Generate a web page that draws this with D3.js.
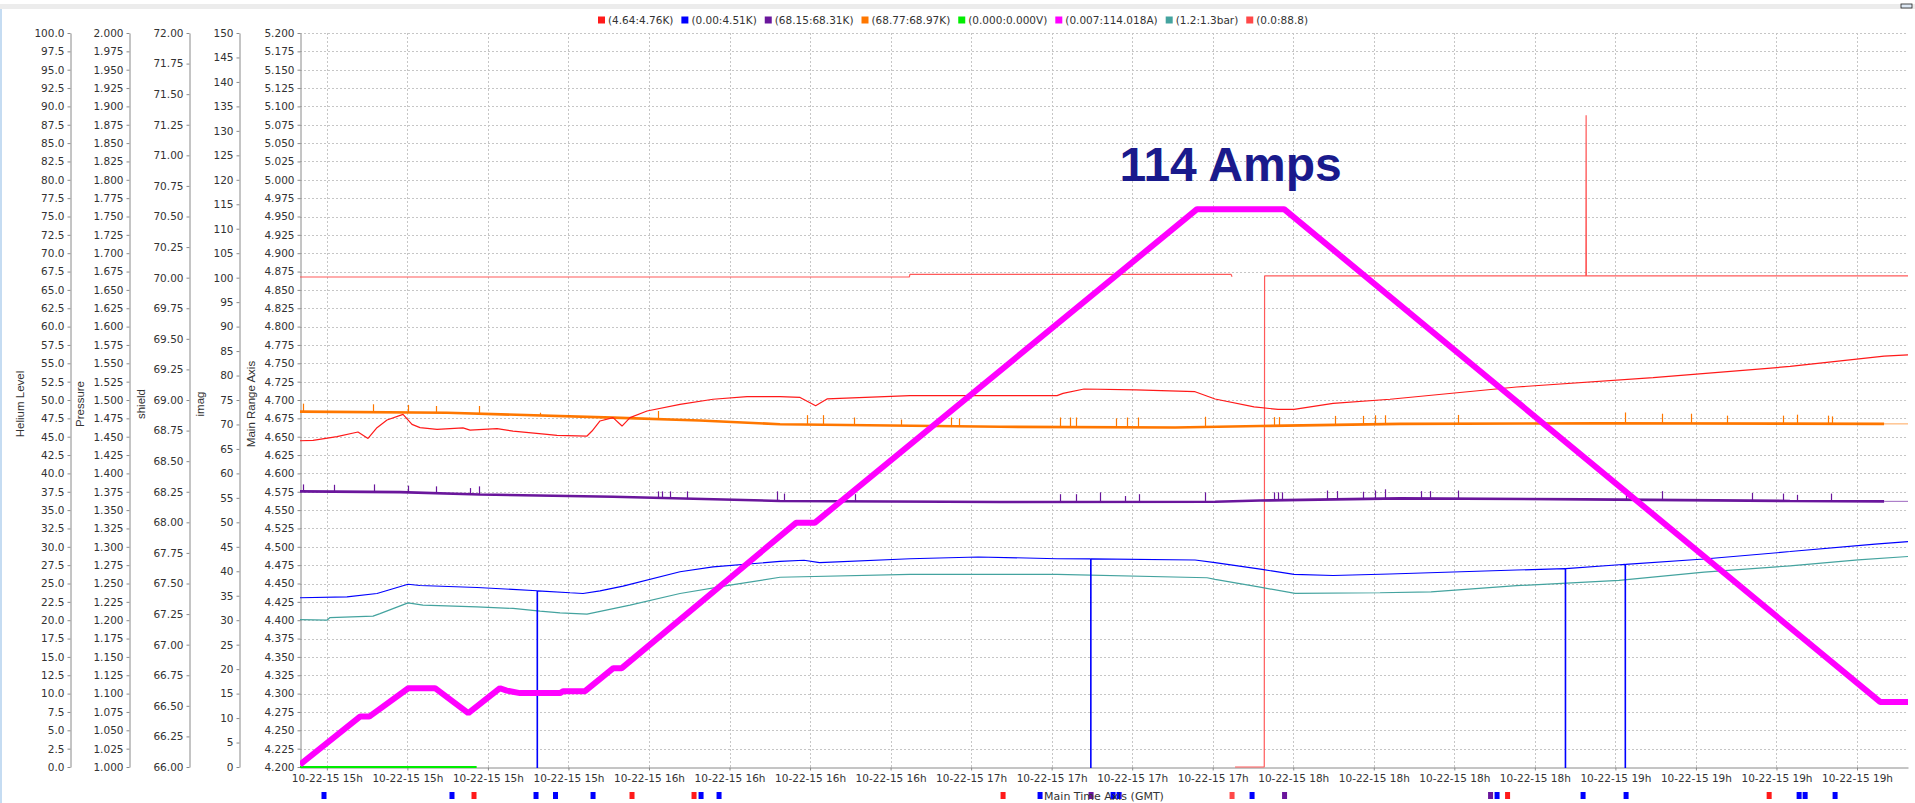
<!DOCTYPE html>
<html>
<head>
<meta charset="utf-8">
<script src="https://cdn.jsdelivr.net/npm/d3@7"></script>
<style>
	body { margin:0; background:#fff; }
	svg { display:block; }
</style>
</head>
<body>
<script>
// all times are minutes after 10-22-15 14:55 (GMT)
var timeStart = new Date(2015, 9, 22, 14, 55);
var timeSpan = 299.5;

// axis ranges / tick steps
var heliumRange = [0, 100],   heliumStep = 2.5;
var pressureRange = [1, 2],   pressureStep = 0.025;
var shieldRange = [66, 72],   shieldStep = 0.25;
var imagRange = [0, 150],     imagStep = 5;
var mainRange = [4.2, 5.2],   mainStep = 0.025;

var legendLabels = ["(4.64:4.76K)", "(0.00:4.51K)", "(68.15:68.31K)", "(68.77:68.97K)",
	"(0.000:0.000V)", "(0.007:114.018A)", "(1.2:1.3bar)", "(0.0:88.8)"];

// series 0 - red, main range axis
var redK = [[0,4.6445],[2.42,4.645],[6.89,4.650],[10.80,4.6564],[12.67,4.6477],[14.34,4.6623],
	[16.21,4.6727],[19.19,4.6805],[20.86,4.6668],[22.35,4.6623],[25.52,4.660],[30.36,4.662],
	[31.67,4.659],[36.70,4.661],[39.68,4.6577],[46.01,4.6532],[47.87,4.6518],[53.46,4.6509],
	[54.39,4.6577],[55.88,4.6714],[58.30,4.676],[59.98,4.6645],[61.47,4.676],[64.64,4.685],
	[70.78,4.694],[76.93,4.701],[83.26,4.7045],[89.41,4.7045],[93.14,4.7035],[96.04,4.6922],
	[98.16,4.7014],[113.62,4.7059],[141.0,4.7059],[142.12,4.709],[146.03,4.715],[155.72,4.7137],
	[166.71,4.7113],[170.44,4.7014],[177.70,4.6907],[182.17,4.6872],[185.15,4.6872],[192.42,4.6954],
	[203.03,4.701],[226.60,4.7177],[252.03,4.7306],[277.54,4.7457],[295.05,4.7598],[299.5,4.7614]];

// series 1 - blue, main range axis (drops to 0 are dropouts)
var blueK = [[0,4.4305],[8.75,4.4318],[14.34,4.4364],[20.12,4.449],[22.35,4.4473],[32.97,4.4445],
	[44.15,4.4402],[44.2,0],[44.25,4.44],[50.29,4.4373],[52.71,4.4364],[55.88,4.44],[60.17,4.4464],
	[70.78,4.466],[76.93,4.4727],[89.41,4.4801],[93.88,4.4816],[96.77,4.4784],[113.62,4.4838],
	[126.29,4.4861],[141.0,4.4838],[147.25,4.4835],[147.3,0],[147.35,4.4835],[166.71,4.482],
	[170.44,4.4784],[179.19,4.4692],[185.15,4.4624],[192.42,4.461],[203.0,4.463],[226.60,4.4683],
	[235.65,4.4703],[235.7,0],[235.75,4.4703],[245.68,4.4756],[246.8,4.476],[246.85,0],[246.9,4.476],
	[261.53,4.4834],[277.54,4.4935],[293.37,4.5036],[299.5,4.507]];

// series 2 - purple, shield axis
var purpleBase = [[0,68.253],[18.63,68.247],[33.53,68.228],[58.30,68.209],[89.41,68.175],
	[130.39,68.166],[170.44,68.168],[178.82,68.178],[204.90,68.196],[239.36,68.188],
	[277.54,68.175],[295.05,68.171]];
var purpleSpikes = [[0.56,68.31],[6.33,68.307],[13.78,68.31],[20.12,68.30],[25.33,68.294],
	[31.67,68.28],[33.34,68.294],[66.68,68.253],[67.43,68.253],[68.92,68.253],[72.09,68.253],
	[88.85,68.253],[90.15,68.235],[103.38,68.23],[141.57,68.23],[144.55,68.23],[149.02,68.245],
	[153.67,68.215],[156.28,68.23],[168.57,68.245],[181.43,68.245],[182.18,68.245],[182.92,68.245],
	[191.30,68.26],[193.16,68.255],[198.0,68.25],[200.24,68.26],[202.10,68.27],[208.81,68.255],
	[210.49,68.255],[215.70,68.26],[246.99,68.255],[253.70,68.255],[270.46,68.24],[276.24,68.235],
	[278.85,68.225],[285.18,68.235]];

// series 3 - orange, shield axis
var orangeBase = [[0,68.905],[27.38,68.896],[58.30,68.856],[74.45,68.832],[89.41,68.802],
	[130.39,68.781],[162.99,68.775],[178.82,68.787],[204.90,68.805],[242.15,68.81],[295.05,68.805]];
var orangeSpikes = [[0.56,68.97],[13.60,68.965],[20.12,68.96],[25.33,68.951],[33.34,68.951],
	[44.70,68.896],[66.68,68.91],[94.44,68.876],[97.42,68.876],[103.19,68.857],[111.95,68.84],
	[121.26,68.857],[122.75,68.85],[141.57,68.857],[143.43,68.857],[144.55,68.857],[152.0,68.85],
	[154.04,68.857],[156.09,68.857],[168.57,68.863],[181.43,68.86],[182.36,68.86],[192.79,68.87],
	[198.0,68.87],[200.24,68.875],[202.10,68.875],[215.70,68.878],[246.81,68.898],[253.70,68.888],
	[259.10,68.888],[265.81,68.872],[276.24,68.872],[278.85,68.88],[284.63,68.872],[285.37,68.866]];

// series 4 - green volts, imag axis
var greenV = [[0,0],[32.9,0]];

// series 5 - magenta current, imag axis
var magentaA = [[0,0.5],[11.18,10.3],[12.9,10.3],[20.17,16.1],[25.15,16.1],[31.35,11.0],
	[37.25,16.1],[38.5,15.6],[40.98,15.1],[48.43,15.1],[49.05,15.5],[53.09,15.5],[58.36,20.2],
	[59.93,20.2],[92.39,49.9],[95.86,49.9],[167.08,114.0],[183.29,114.0],[294.3,13.3],[299.5,13.3]];

// series 6 - teal pressure, pressure axis
var tealBar = [[0,1.2009],[5.03,1.200],[5.59,1.2036],[13.60,1.2055],[14.90,1.209],[20.12,1.2236],
	[22.91,1.2205],[32.97,1.2182],[39.68,1.216],[44.70,1.2123],[48.43,1.210],[53.46,1.2082],
	[61.47,1.2205],[70.78,1.2364],[80.10,1.2477],[89.41,1.2585],[113.62,1.2624],[141.0,1.2624],
	[168.95,1.2578],[170.44,1.2556],[178.82,1.245],[185.34,1.2365],[201.17,1.2374],[210.67,1.2385],
	[226.60,1.247],[245.68,1.2543],[261.53,1.2655],[277.54,1.274],[290.21,1.2823],[299.5,1.2868]];

// series 7 - helium level (null = gap)
var heliumLevel = [[0,66.76],[113.5,66.76],[113.6,67.12],[173.4,67.12],[173.6,66.8],[173.7,null],
	[174.16,0],[179.6,0],[179.66,66.9],[239.5,66.9],[239.55,88.8],[239.6,66.9],[299.5,66.9]];

// event markers under the time axis
var markerTimes = [4.47,28.31,32.41,43.96,47.59,54.58,61.84,73.39,74.70,78.05,130.95,137.84,
	147.34,151.44,152.56,173.60,177.33,183.38,221.75,222.96,224.92,238.98,246.99,273.64,279.22,
	280.34,285.92];
var markerSeries = [1,1,0,1,1,1,0,0,1,1,0,1,2,1,1,7,1,2,2,1,0,1,1,0,1,1,1];

var peakLabel = "114 Amps";

var colors = ["#ff1a1a", "#0000ff", "#6a169c", "#ff7700", "#00ee00", "#ff00ff", "#44a39f", "#ff4848"];

function tm(min) { return new Date(timeStart.getTime() + min * 60000); }

var W = 1915, H = 803;
var plot = {left:300, right:1908, top:33, bottom:767};

var svg = d3.select("body").append("svg")
	.attr("width", W)
	.attr("height", H);

// window chrome bits
svg.append("rect").attr("x", 0).attr("y", 4).attr("width", W).attr("height", 5).attr("fill", "#ececec");
svg.append("rect").attr("x", 0).attr("y", 9).attr("width", 2).attr("height", H-9).attr("fill", "#c5dcf2");
svg.append("rect").attr("x", 1901).attr("y", 4).attr("width", 11).attr("height", 4)
	.attr("fill", "#dde8f4").attr("stroke", "#222").attr("stroke-width", 0.8);

var x = d3.scaleTime()
	.domain([tm(0), tm(timeSpan)])
	.range([plot.left, plot.right]);

function yScale(r) {
	return d3.scaleLinear().domain(r).range([plot.bottom, plot.top]);
}
var yHelium = yScale(heliumRange),
	yPressure = yScale(pressureRange),
	yShield = yScale(shieldRange),
	yImag = yScale(imagRange),
	yMain = yScale(mainRange);

function tickVals(r, step) {
	var n = Math.round((r[1] - r[0]) / step);
	return d3.range(n + 1).map(function(i){ return r[0] + i * step; });
}

var timeTicks = x.ticks(d3.timeMinute.every(15));

// grid
var grid = svg.append("g").attr("stroke", "#c6c6c6").attr("stroke-dasharray", "2,2").attr("stroke-width", 1);
tickVals(mainRange, mainStep).forEach(function(v){
	if (Math.abs(v - mainRange[0]) < 1e-9) return;
	var yy = Math.round(yMain(v)) + 0.5;
	grid.append("line").attr("x1", plot.left).attr("x2", plot.right).attr("y1", yy).attr("y2", yy);
});
timeTicks.forEach(function(t){
	var xx = Math.round(x(t)) + 0.5;
	grid.append("line").attr("x1", xx).attr("x2", xx).attr("y1", plot.top).attr("y2", plot.bottom);
});

// left axes
var axes = [
	{title:"Helium Level", scale:yHelium, range:heliumRange, step:heliumStep, fmt:".1f", at:70, titleAt:20},
	{title:"Pressure", scale:yPressure, range:pressureRange, step:pressureStep, fmt:".3f", at:129, titleAt:80},
	{title:"shield", scale:yShield, range:shieldRange, step:shieldStep, fmt:".2f", at:189, titleAt:141},
	{title:"imag", scale:yImag, range:imagRange, step:imagStep, fmt:"d", at:239, titleAt:200},
	{title:"Main Range Axis", scale:yMain, range:mainRange, step:mainStep, fmt:".3f", at:300, titleAt:251}
];

axes.forEach(function(a){
	var g = svg.append("g")
		.attr("transform", "translate(" + (a.at + 0.5) + ",0)")
		.call(d3.axisLeft(a.scale)
			.tickValues(tickVals(a.range, a.step))
			.tickFormat(d3.format(a.fmt))
			.tickSizeInner(3)
			.tickSizeOuter(0)
			.tickPadding(3));
	g.select(".domain").attr("stroke", "#8a8a8a");
	g.selectAll(".tick line").attr("stroke", "#8a8a8a");
	g.selectAll(".tick text")
		.attr("fill", "#333")
		.attr("font-family", "DejaVu Sans")
		.attr("font-size", "10.5px");

	svg.append("text")
		.attr("transform", "translate(" + a.titleAt + "," + 404 + ") rotate(-90)")
		.attr("text-anchor", "middle")
		.attr("dy", "0.35em")
		.attr("font-family", "Liberation Sans")
		.attr("font-size", "11.5px")
		.attr("fill", "#333")
		.text(a.title);
});

// time axis
var xg = svg.append("g")
	.attr("transform", "translate(0," + (plot.bottom + 0.5) + ")")
	.call(d3.axisBottom(x)
		.tickValues(timeTicks)
		.tickFormat(d3.timeFormat("%m-%d-%y %Hh"))
		.tickSizeInner(3)
		.tickSizeOuter(0)
		.tickPadding(4));
xg.select(".domain").attr("stroke", "#8a8a8a");
xg.selectAll(".tick line").attr("stroke", "#8a8a8a");
xg.selectAll(".tick text")
	.attr("fill", "#333")
	.attr("font-family", "DejaVu Sans")
	.attr("font-size", "10.5px");

// series lines
svg.append("clipPath").attr("id", "clip")
	.append("rect")
	.attr("x", plot.left).attr("y", plot.top)
	.attr("width", plot.right - plot.left).attr("height", plot.bottom - plot.top + 1);

var lines = svg.append("g").attr("clip-path", "url(#clip)");

function drawLine(data, yS, color, width, opacity) {
	var line = d3.line()
		.defined(function(d){ return d[1] != null; })
		.x(function(d){ return x(tm(d[0])); })
		.y(function(d){ return yS(d[1]); });
	lines.append("path")
		.datum(data)
		.attr("d", line)
		.attr("fill", "none")
		.attr("stroke", color)
		.attr("stroke-width", width)
		.attr("stroke-opacity", opacity == null ? 1 : opacity)
		.attr("stroke-linejoin", "bevel");
}

// thin upward glitches on a noisy trace
function drawSpikes(base, spikes, yS, color) {
	var interp = d3.scaleLinear()
		.domain(base.map(function(d){ return d[0]; }))
		.range(base.map(function(d){ return d[1]; }));
	lines.append("g").selectAll("line")
		.data(spikes)
		.enter().append("line")
			.attr("x1", function(d){ return Math.round(x(tm(d[0]))) + 0.5; })
			.attr("x2", function(d){ return Math.round(x(tm(d[0]))) + 0.5; })
			.attr("y1", function(d){ return yS(interp(d[0])); })
			.attr("y2", function(d){ return yS(d[1]); })
			.attr("stroke", color)
			.attr("stroke-width", 1.2);
}

// faded continuation after the last sample
function drawTail(data, yS, color, width) {
	var last = data[data.length - 1];
	drawLine([last, [timeSpan, last[1]]], yS, color, width, 0.55);
}

drawLine(heliumLevel, yHelium, colors[7], 1.2, 0.9);
drawLine(greenV, yImag, colors[4], 2);
drawLine(tealBar, yPressure, colors[6], 1.2);
drawLine(blueK, yMain, colors[1], 1.1);
drawLine(purpleBase, yShield, colors[2], 2.6);
drawSpikes(purpleBase, purpleSpikes, yShield, colors[2]);
drawTail(purpleBase, yShield, colors[2], 1.2);
drawLine(orangeBase, yShield, colors[3], 2.6);
drawSpikes(orangeBase, orangeSpikes, yShield, colors[3]);
drawTail(orangeBase, yShield, colors[3], 1.2);
drawLine(redK, yMain, colors[0], 1.2);
drawLine(magentaA, yImag, colors[5], 6);

// peak annotation, over the plateau of the current ramp
var peak = magentaA.filter(function(d){ return d[1] === d3.max(magentaA, function(e){ return e[1]; }); });
var peakMid = (peak[0][0] + peak[peak.length - 1][0]) / 2;
svg.append("text")
	.attr("x", x(tm(peakMid)) - 10)
	.attr("y", yImag(peak[0][1]) - 28)
	.attr("text-anchor", "middle")
	.attr("font-family", "Liberation Sans")
	.attr("font-weight", "bold")
	.attr("font-size", "48px")
	.attr("fill", "#1a1a8c")
	.text(peakLabel);

// markers under the axis
svg.append("g").selectAll("rect")
	.data(markerTimes)
	.enter().append("rect")
		.attr("x", function(d){ return x(tm(d)) - 2.5; })
		.attr("y", 792)
		.attr("width", 5)
		.attr("height", 7)
		.attr("fill", function(d, i){ return colors[markerSeries[i]]; });

svg.append("text")
	.attr("x", (plot.left + plot.right) / 2)
	.attr("y", 796)
	.attr("dy", "0.35em")
	.attr("text-anchor", "middle")
	.attr("font-family", "DejaVu Sans")
	.attr("font-size", "11px")
	.attr("fill", "#333")
	.text("Main Time Axis (GMT)");

// legend
var lx = 598;
legendLabels.forEach(function(label, i){
	svg.append("rect")
		.attr("x", lx).attr("y", 16.5)
		.attr("width", 7).attr("height", 7)
		.attr("fill", colors[i]);
	var t = svg.append("text")
		.attr("x", lx + 10)
		.attr("y", 20)
		.attr("dy", "0.35em")
		.attr("font-family", "DejaVu Sans")
		.attr("font-size", "10.5px")
		.attr("fill", "#333")
		.text(label);
	lx += 10 + t.node().getComputedTextLength() + 8;
});
</script>
</body>
</html>
